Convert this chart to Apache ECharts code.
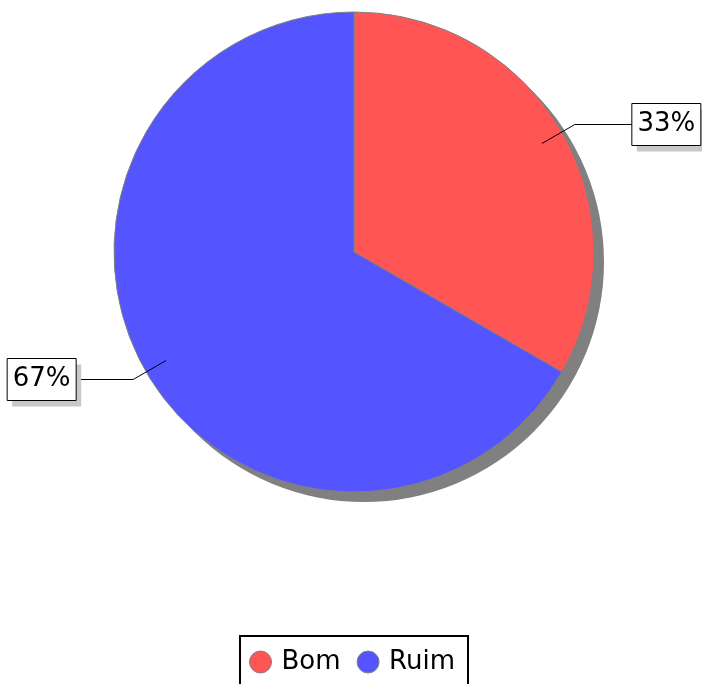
<!DOCTYPE html>
<html>
<head>
<meta charset="utf-8">
<script src="https://cdn.jsdelivr.net/npm/echarts@6/dist/echarts.min.js"></script>
<style>
  html, body { margin: 0; padding: 0; background: #fff; }
  #chart { width: 702px; height: 684px; }
</style>
</head>
<body>
<div id="chart"></div>
<script>
// dados
var categorias = ['Bom', 'Ruim'];
var valores = [1, 2];
var cores = ['#ff5555', '#5555ff'];

var myChart = echarts.init(document.getElementById('chart'));

var pieData = categorias.map(function (c, i) {
    return { name: c, value: valores[i], itemStyle: { color: cores[i] } };
});
var total = valores.reduce(function (a, b) { return a + b; }, 0);

var option = {
    animation: false,
    textStyle: { fontFamily: 'DejaVu Sans' },
    legend: {
        data: categorias,
        top: 636,
        left: 240,
        orient: 'horizontal',
        icon: 'circle',
        itemWidth: 32,
        itemHeight: 22,
        itemGap: 16,
        padding: [13, 13, 13, 9],
        borderColor: '#000',
        borderWidth: 2,
        textStyle: { fontSize: 26, color: '#000', fontFamily: 'DejaVu Sans' },
        itemStyle: { borderColor: '#808080', borderWidth: 1 }
    },
    series: [
        {
            // sombra do gráfico
            type: 'pie',
            silent: true,
            z: 1,
            center: [364, 262],
            radius: 240,
            label: { show: false },
            labelLine: { show: false },
            data: [{ name: '_sombra', value: 1, itemStyle: { color: '#808080' } }]
        },
        {
            type: 'pie',
            z: 2,
            center: [354, 252],
            radius: 240,
            startAngle: 90,
            clockwise: true,
            avoidLabelOverlap: false,
            label: { show: false },
            labelLine: { show: false },
            itemStyle: { borderColor: '#808080', borderWidth: 1 },
            emphasis: { disabled: true },
            data: pieData
        },
        {
            // rótulos
            type: 'pie',
            silent: true,
            z: 5,
            center: [354, 252],
            radius: 217,
            startAngle: 90,
            clockwise: true,
            avoidLabelOverlap: false,
            itemStyle: { color: 'transparent' },
            emphasis: { disabled: true },
            label: {
                show: true,
                position: 'outside',
                distanceToLabelLine: 0,
                formatter: function (p) {
                    return '{b|' + Math.round(p.value / total * 100) + '%}';
                },
                padding: 0,
                backgroundColor: '#fff',
                shadowColor: '#c8c8c8',
                shadowBlur: 0,
                shadowOffsetX: 5,
                shadowOffsetY: 6,
                rich: {
                    b: {
                        fontSize: 26,
                        lineHeight: 42,
                        height: 42,
                        width: 69,
                        align: 'center',
                        color: '#000',
                        fontFamily: 'DejaVu Sans',
                        borderColor: '#000',
                        borderWidth: 1
                    }
                }
            },
            labelLine: {
                show: true,
                length: 38,
                length2: 57,
                lineStyle: { color: '#000', width: 1 }
            },
            data: categorias.map(function (c, i) {
                return { name: c, value: valores[i] };
            })
        }
    ]
};

myChart.setOption(option);
</script>
</body>
</html>
